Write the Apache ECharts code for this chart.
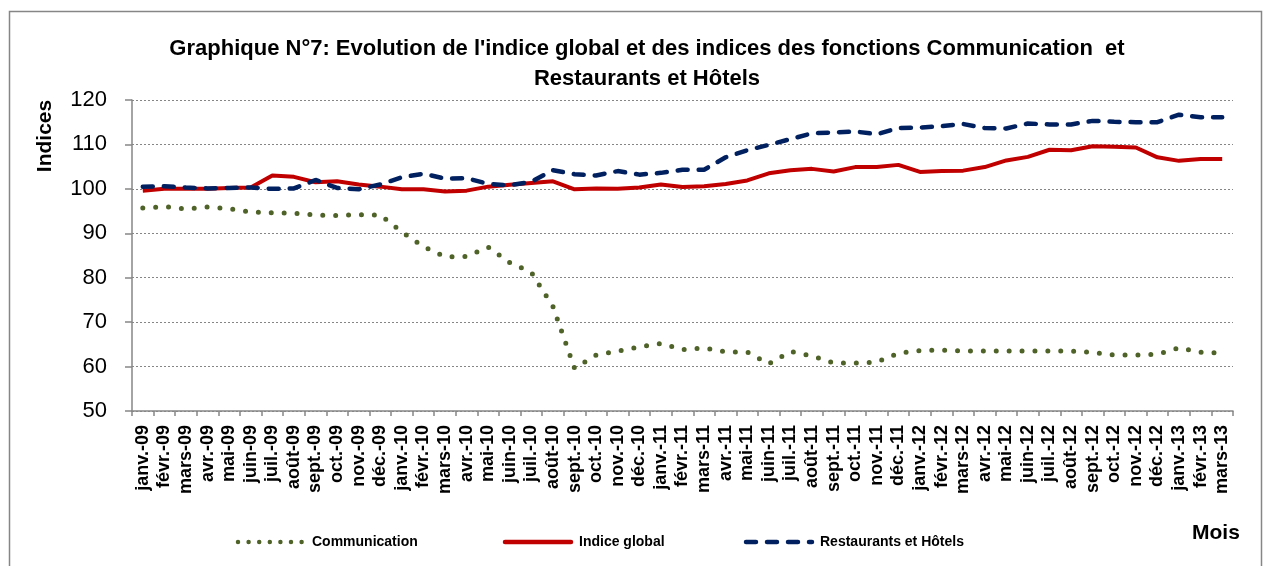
<!DOCTYPE html>
<html>
<head>
<meta charset="utf-8">
<script src="https://cdn.jsdelivr.net/npm/echarts@6/dist/echarts.min.js"></script>
<style>
  html, body { margin: 0; padding: 0; background: #fff; }
  #chart { width: 1264px; height: 566px; }
</style>
</head>
<body>
<div id="chart"></div>
<script>
var months = [
    'janv.-09', 'févr.-09', 'mars-09', 'avr.-09', 'mai-09', 'juin-09', 'juil.-09', 'août-09', 'sept.-09', 'oct.-09', 'nov.-09', 'déc.-09',
    'janv.-10', 'févr.-10', 'mars-10', 'avr.-10', 'mai-10', 'juin-10', 'juil.-10', 'août-10', 'sept.-10', 'oct.-10', 'nov.-10', 'déc.-10',
    'janv.-11', 'févr.-11', 'mars-11', 'avr.-11', 'mai-11', 'juin-11', 'juil.-11', 'août-11', 'sept.-11', 'oct.-11', 'nov.-11', 'déc.-11',
    'janv.-12', 'févr.-12', 'mars-12', 'avr.-12', 'mai-12', 'juin-12', 'juil.-12', 'août-12', 'sept.-12', 'oct.-12', 'nov.-12', 'déc.-12',
    'janv.-13', 'févr.-13', 'mars-13'
];

var communication = [
    95.7, 96.0, 95.5, 95.9, 95.5, 94.8, 94.6, 94.5, 94.1, 94.0, 94.2, 94.1,
    90.3, 87.0, 84.7, 84.8, 86.9, 83.4, 81.2, 73.5, 59.6, 62.6, 63.5, 64.4,
    65.2, 63.8, 64.2, 63.3, 63.3, 60.6, 63.4, 62.4, 60.8, 60.8, 61.0, 63.0,
    63.6, 63.7, 63.5, 63.5, 63.5, 63.5, 63.5, 63.5, 63.2, 62.6, 62.6, 62.8,
    64.2, 63.2, 63.1
];

var indiceGlobal = [
    99.6, 100.0, 100.0, 100.0, 100.2, 100.3, 103.0, 102.7, 101.5, 101.7, 101.0, 100.5,
    99.9, 99.9, 99.4, 99.6, 100.5, 100.9, 101.3, 101.7, 99.9, 100.1, 100.0, 100.3,
    101.0, 100.4, 100.6, 101.1, 101.9, 103.5, 104.2, 104.5, 103.9, 104.9, 104.9, 105.4,
    103.8, 104.0, 104.1, 104.9, 106.4, 107.2, 108.8, 108.7, 109.6, 109.5, 109.3, 107.1,
    106.3, 106.7, 106.7
];

var restaurants = [
    100.5, 100.6, 100.3, 100.1, 100.2, 100.3, 100.0, 100.1, 102.0, 100.2, 99.9, 101.0,
    102.6, 103.4, 102.3, 102.4, 101.1, 100.8, 101.6, 104.2, 103.3, 103.0, 104.0, 103.2,
    103.6, 104.3, 104.3, 107.1, 108.7, 109.9, 111.2, 112.5, 112.7, 112.9, 112.3, 113.7,
    113.8, 114.1, 114.6, 113.7, 113.6, 114.7, 114.5, 114.5, 115.3, 115.1, 115.0, 115.0,
    116.7, 116.1, 116.1
];

var yTicks = { min: 50, max: 120, step: 10 };

var FONT = "'Liberation Sans', Arial, sans-serif";
var GREY = '#868686';
var GREEN = '#4F6228', RED = '#C00000', BLUE = '#002060';

// legend drawn by hand so the swatches keep the dotted / dashed look
function legendItem(x, label, stroke, width, dash) {
    return [
        {
            type: 'line',
            silent: true,
            shape: { x1: x, y1: 542, x2: x + 66, y2: 542 },
            style: { stroke: stroke, lineWidth: width, lineDash: dash, lineCap: 'round' }
        },
        {
            type: 'text',
            silent: true,
            x: x + 74,
            y: 542,
            style: { text: label, font: 'bold 14px ' + FONT, fill: '#000', verticalAlign: 'middle' }
        }
    ];
}

var myChart = echarts.init(document.getElementById('chart'));

var option = {
    backgroundColor: '#fff',
    animation: false,
    title: {
        text: "Graphique N°7: Evolution de l'indice global et des indices des fonctions Communication  et\nRestaurants et Hôtels",
        left: 642,
        top: 29,
        textAlign: 'center',
        textStyle: {
            fontFamily: FONT,
            fontSize: 22,
            fontWeight: 'bold',
            color: '#000',
            lineHeight: 30
        }
    },
    grid: { left: 132, right: 31, top: 100, bottom: 155 },
    xAxis: {
        type: 'category',
        data: months,
        boundaryGap: true,
        axisLine: { lineStyle: { color: GREY, width: 1.5 } },
        axisTick: { show: true, interval: 0, length: 5, lineStyle: { color: GREY, width: 1.5 } },
        axisLabel: {
            interval: 0,
            rotate: 90,
            margin: 14,
            fontFamily: FONT,
            fontSize: 18,
            fontWeight: 'bold',
            color: '#000'
        }
    },
    yAxis: {
        type: 'value',
        min: yTicks.min,
        max: yTicks.max,
        interval: yTicks.step,
        axisLine: { show: true, lineStyle: { color: GREY, width: 1.5 } },
        axisTick: { show: true, length: 7, lineStyle: { color: GREY, width: 1.5 } },
        axisLabel: { margin: 25, fontFamily: FONT, fontSize: 22, color: '#000' },
        splitLine: { lineStyle: { color: GREY, type: [2, 2], width: 1 } }
    },
    graphic: [
        {
            type: 'rect',
            silent: true,
            shape: { x: 9.5, y: 11.5, width: 1252, height: 600 },
            style: { fill: 'none', stroke: GREY, lineWidth: 1.5 }
        },
        {
            type: 'text',
            silent: true,
            x: 45,
            y: 136,
            rotation: Math.PI / 2,
            style: { text: 'Indices', font: 'bold 21px ' + FONT, fill: '#000', align: 'center', verticalAlign: 'middle' }
        },
        {
            type: 'text',
            silent: true,
            x: 1192,
            y: 533,
            style: { text: 'Mois', font: 'bold 21px ' + FONT, fill: '#000', verticalAlign: 'middle' }
        }
    ].concat(
        legendItem(238, 'Communication', GREEN, 4.5, [0, 10.6]),
        legendItem(505, 'Indice global', RED, 4.5, null),
        legendItem(746, 'Restaurants et Hôtels', BLUE, 4.5, [10, 11])
    ),
    series: [
        {
            name: 'Communication',
            type: 'line',
            data: communication,
            symbol: 'none',
            lineStyle: { color: GREEN, width: 5, type: [0, 12.9], cap: 'round' },
            z: 3
        },
        {
            name: 'Indice global',
            type: 'line',
            data: indiceGlobal,
            symbol: 'none',
            lineStyle: { color: RED, width: 4 },
            z: 2
        },
        {
            name: 'Restaurants et Hôtels',
            type: 'line',
            data: restaurants,
            symbol: 'none',
            lineStyle: { color: BLUE, width: 4.5, type: [10, 11], cap: 'round' },
            z: 4
        }
    ]
};

myChart.setOption(option);
</script>
</body>
</html>
